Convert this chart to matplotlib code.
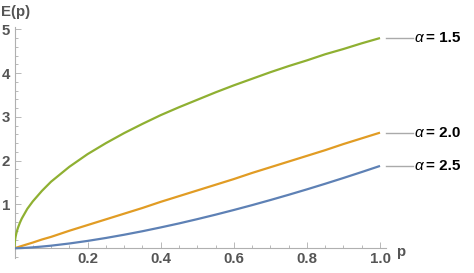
import matplotlib
matplotlib.use("Agg")
import matplotlib.pyplot as plt
from matplotlib.ticker import MultipleLocator, FixedLocator
import matplotlib.transforms as mtransforms

plt.rcParams['font.family'] = ['Liberation Sans', 'DejaVu Sans']

# Data
p = [0.0, 0.0005, 0.001, 0.002, 0.003, 0.005, 0.0075, 0.01, 0.015, 0.02, 0.035, 0.05, 0.075, 0.1,
     0.15, 0.2, 0.25, 0.3, 0.35, 0.4, 0.45,
     0.5, 0.55, 0.6, 0.65, 0.7, 0.75, 0.8, 0.85, 0.9, 0.95, 1.0]
e_15 = [0.0, 0.107, 0.152, 0.215, 0.263, 0.34, 0.416, 0.48, 0.588, 0.68, 0.90, 1.07, 1.31, 1.52,
        1.86, 2.15, 2.40, 2.63, 2.84, 3.04, 3.22,
        3.39, 3.56, 3.72, 3.87, 4.02, 4.16, 4.29, 4.43, 4.55, 4.68, 4.80]
e_20 = [0.0, 0.001, 0.003, 0.005, 0.008, 0.013, 0.02, 0.026, 0.04, 0.053, 0.092, 0.13, 0.20, 0.26,
        0.40, 0.53, 0.66, 0.79, 0.92, 1.06, 1.19,
        1.32, 1.45, 1.58, 1.72, 1.85, 1.98, 2.11, 2.24, 2.38, 2.51, 2.64]
e_25 = [0.0, 0.0, 0.0, 0.0, 0.0, 0.0, 0.001, 0.002, 0.003, 0.005, 0.012, 0.021, 0.039, 0.059,
        0.109, 0.168, 0.235, 0.309, 0.389, 0.476, 0.567,
        0.665, 0.767, 0.874, 0.985, 1.101, 1.221, 1.345, 1.473, 1.605, 1.741, 1.88]
labels = ["1.5", "2.0", "2.5"]
series = [e_15, e_20, e_25]
colors = ["#8FB032", "#E19C24", "#5E81B5"]

W, H = 474, 273
fig = plt.figure(figsize=(W / 100, H / 100), dpi=100)
xlim = (0, 1.015)
ylim = (-0.22, 5.05)
left_px, right_px = 14.5, 385.5
top_px, bottom_px = 27.1, 257.9
ax = fig.add_axes([left_px / W, (H - bottom_px) / H, (right_px - left_px) / W, (bottom_px - top_px) / H])
ax.set_xlim(*xlim)
ax.set_ylim(*ylim)
ax.patch.set_alpha(0)

for s, c in zip(series, colors):
    ax.plot(p, s, color=c, lw=1.6, solid_capstyle='butt', solid_joinstyle='round', zorder=3)

for sp in ['top', 'right']:
    ax.spines[sp].set_visible(False)
ax.spines['bottom'].set_position(('data', 0))
ax.spines['left'].set_position(('data', 0))
for sp in ['bottom', 'left']:
    ax.spines[sp].set_color('#b0b0b0')
    ax.spines[sp].set_linewidth(0.8)

ax.xaxis.set_major_locator(FixedLocator([0.2, 0.4, 0.6, 0.8, 1.0]))
ax.xaxis.set_minor_locator(MultipleLocator(0.05))
ax.yaxis.set_major_locator(FixedLocator([1, 2, 3, 4, 5]))
ax.yaxis.set_minor_locator(MultipleLocator(0.2))
ax.set_xticklabels(["0.2", "0.4", "0.6", "0.8", "1.0"])
ax.set_yticklabels(["1", "2", "3", "4", "5"])
ax.tick_params(which='both', direction='in', color='#b8b8b8', width=0.7)
ax.tick_params(which='major', length=4.0)
ax.tick_params(which='minor', length=2.2)
ax.tick_params(axis='x', which='major', pad=3)
ax.tick_params(axis='y', which='major', pad=3)
for lab in ax.get_xticklabels() + ax.get_yticklabels():
    lab.set_fontsize(10.8)
    lab.set_fontweight('bold')
    lab.set_color('#555555')

# axis labels
fig.text(1 / W, 1 - 12 / H, "E(p)", fontsize=10.8, fontweight='bold', color='#555555', va='center', ha='left')
fig.text(396 / W, 1 - 252 / H, "p", fontsize=10.8, fontweight='bold', color='#555555', va='center', ha='left')

# callout labels
tr = mtransforms.blended_transform_factory(fig.transFigure, ax.transData)
for s, lab in zip(series, labels):
    yv = s[-1]
    ax.plot([386 / W, 413 / W], [yv, yv], color='#aaaaaa', lw=1.0, transform=tr, clip_on=False)
    fig.text(414 / W, yv, "α", fontsize=11, style='italic', color='black', va='center', ha='left',
             transform=tr)
    fig.text(425.5 / W, yv, "= " + lab, fontsize=11, fontweight='bold', color='black', va='center',
             ha='left', transform=tr)

fig.savefig("out.png", dpi=100)
